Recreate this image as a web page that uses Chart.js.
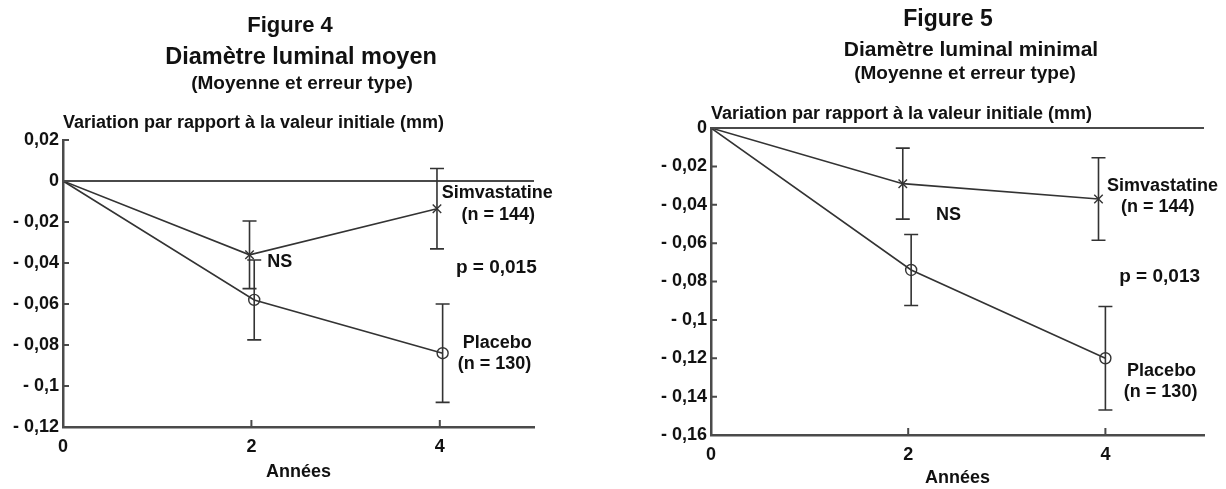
<!DOCTYPE html>
<html><head><meta charset="utf-8">
<script src="https://cdn.jsdelivr.net/npm/chart.js@4"></script>
<style>
html,body{margin:0;padding:0;background:#fff;}
#wrap{position:relative;width:1226px;height:489px;overflow:hidden;}
canvas{position:absolute;top:0;}
#c4{left:0}
#c5{left:613px}
</style></head><body>
<div id="wrap"><canvas id="c4" width="613" height="489"></canvas><canvas id="c5" width="613" height="489"></canvas></div>
<script>
// ---------- data ----------
const xTicks = [0, 2, 4];
const xTickLabels = ['0', '2', '4'];

// Figure 4 : Diamètre luminal moyen
const fig4SimX = [0, 1.98, 3.97];
const fig4SimY = [0, -0.036, -0.0135];
const fig4SimErr = [0, 0.0165, 0.0196];
const fig4PlaX = [0, 2.03, 4.03];
const fig4PlaY = [0, -0.058, -0.084];
const fig4PlaErr = [0, 0.0195, 0.024];
const fig4YTicks = [0.02, 0, -0.02, -0.04, -0.06, -0.08, -0.1, -0.12];
const fig4YTickLabels = ['0,02', '0', '- 0,02', '- 0,04', '- 0,06', '- 0,08', '- 0,1', '- 0,12'];

// Figure 5 : Diamètre luminal minimal
const fig5SimX = [0, 1.945, 3.93];
const fig5SimY = [0, -0.029, -0.037];
const fig5SimErr = [0, 0.0185, 0.0215];
const fig5PlaX = [0, 2.03, 4.0];
const fig5PlaY = [0, -0.074, -0.120];
const fig5PlaErr = [0, 0.0185, 0.027];
const fig5YTicks = [0, -0.02, -0.04, -0.06, -0.08, -0.1, -0.12, -0.14, -0.16];
const fig5YTickLabels = ['0', '- 0,02', '- 0,04', '- 0,06', '- 0,08', '- 0,1', '- 0,12', '- 0,14', '- 0,16'];

// ---------- style ----------
const FONT = '"Liberation Sans", Arial, Helvetica, sans-serif';
const AXIS = '#4a4a4a';
const LINE = '#333333';
const TEXT = '#111111';

const decor = {
  id: 'decor',
  beforeDatasetsDraw(chart, args, o) {
    const ctx = chart.ctx, xs = chart.scales.x, ys = chart.scales.y, ca = chart.chartArea;
    ctx.save();
    ctx.strokeStyle = AXIS; ctx.lineWidth = 2;
    const y0 = ys.getPixelForValue(0);
    ctx.beginPath(); ctx.moveTo(ca.left, y0); ctx.lineTo(ca.right, y0); ctx.stroke();
    ctx.restore();
  },
  afterDatasetsDraw(chart, args, o) {
    const ctx = chart.ctx, xs = chart.scales.x, ys = chart.scales.y;
    ctx.save();
    ctx.strokeStyle = LINE; ctx.lineWidth = 1.6;
    for (const s of o.errors) {
      for (let i = 0; i < s.x.length; i++) {
        if (!s.e[i]) continue;
        const px = xs.getPixelForValue(s.x[i]);
        const top = ys.getPixelForValue(s.y[i] + s.e[i]);
        const bot = ys.getPixelForValue(s.y[i] - s.e[i]);
        ctx.beginPath();
        ctx.moveTo(px, top); ctx.lineTo(px, bot);
        ctx.moveTo(px - 7, top); ctx.lineTo(px + 7, top);
        ctx.moveTo(px - 7, bot); ctx.lineTo(px + 7, bot);
        ctx.stroke();
      }
    }
    ctx.restore();
  },
  afterDraw(chart, args, o) {
    const ctx = chart.ctx, xs = chart.scales.x, ys = chart.scales.y, ca = chart.chartArea;
    ctx.save();
    ctx.strokeStyle = AXIS; ctx.lineWidth = 2;
    ctx.beginPath();
    for (const v of o.yTicks) { const p = ys.getPixelForValue(v); ctx.moveTo(ca.left, p); ctx.lineTo(ca.left + 6, p); }
    for (const v of xTicks) { if (v === 0) continue; const p = xs.getPixelForValue(v); ctx.moveTo(p, ca.bottom); ctx.lineTo(p, ca.bottom - 7); }
    ctx.stroke();
    ctx.fillStyle = TEXT;
    // titles
    ctx.textAlign = 'center'; ctx.textBaseline = 'alphabetic';
    for (const t of o.titles) { ctx.font = 'bold ' + t.size + 'px ' + FONT; ctx.fillText(t.text, t.x, t.y); }
    // y axis title
    ctx.textAlign = 'left';
    ctx.font = 'bold 18px ' + FONT;
    ctx.fillText(o.yTitle, ca.left, o.yTitleY);
    // annotations (data coordinates)
    ctx.textAlign = 'center'; ctx.textBaseline = 'middle';
    for (const a of o.notes) {
      ctx.font = 'bold ' + (a.size || 18) + 'px ' + FONT;
      ctx.fillText(a.text, xs.getPixelForValue(a.x), ys.getPixelForValue(a.y));
    }
    ctx.restore();
  }
};

function pts(xs, ys) { return xs.map((x, i) => ({x: x, y: ys[i]})); }

function makeChart(id, cfg) {
  return new Chart(document.getElementById(id), {
    type: 'scatter',
    data: {
      datasets: [
        { label: 'Simvastatine', data: pts(cfg.simX, cfg.simY), showLine: true,
          borderColor: LINE, borderWidth: 1.6, pointStyle: 'crossRot',
          pointRadius: [0, 6, 6], pointBorderColor: LINE, pointBorderWidth: 1.4,
          backgroundColor: 'transparent', pointBackgroundColor: 'transparent' },
        { label: 'Placebo', data: pts(cfg.plaX, cfg.plaY), showLine: true,
          borderColor: LINE, borderWidth: 1.6, pointStyle: 'circle',
          pointRadius: [0, 5.5, 5.5], pointBorderColor: LINE, pointBorderWidth: 1.4,
          backgroundColor: 'transparent', pointBackgroundColor: 'transparent' }
      ]
    },
    options: {
      responsive: false, animation: false, devicePixelRatio: 1,
      layout: { padding: cfg.padding },
      plugins: {
        legend: { display: false }, tooltip: { enabled: false },
        decor: {
          errors: [ {x: cfg.simX, y: cfg.simY, e: cfg.simErr}, {x: cfg.plaX, y: cfg.plaY, e: cfg.plaErr} ],
          yTicks: cfg.yTicks, titles: cfg.titles, yTitle: 'Variation par rapport à la valeur initiale (mm)',
          yTitleY: cfg.yTitleY, notes: cfg.notes
        }
      },
      scales: {
        x: {
          type: 'linear', min: 0, max: 5,
          afterBuildTicks: s => { s.ticks = xTicks.map(v => ({value: v})); },
          afterFit: s => { s.height = cfg.xHeight; },
          grid: { display: false, drawTicks: false },
          border: { display: true, color: AXIS, width: 2.5 },
          ticks: { padding: cfg.xTickPad, color: TEXT, font: { family: FONT, size: 18, weight: 'bold' },
                   callback: (v, i) => xTickLabels[xTicks.indexOf(v)] },
          title: { display: true, text: 'Années', color: TEXT, font: { family: FONT, size: 18, weight: 'bold' },
                   padding: { top: 0, bottom: cfg.xTitlePad } }
        },
        y: {
          type: 'linear', min: cfg.yTicks[cfg.yTicks.length - 1], max: cfg.yTicks[0],
          afterBuildTicks: s => { s.ticks = cfg.yTicks.map(v => ({value: v})); },
          afterFit: s => { s.width = cfg.yWidth; },
          grid: { display: false, drawTicks: false },
          border: { display: true, color: AXIS, width: 2.5 },
          ticks: { padding: 4, color: TEXT, font: { family: FONT, size: 18, weight: 'bold' },
                   callback: (v, i) => cfg.yLabels[i] }
        }
      }
    },
    plugins: [decor]
  });
}

makeChart('c4', {
  simX: fig4SimX, simY: fig4SimY, simErr: fig4SimErr,
  plaX: fig4PlaX, plaY: fig4PlaY, plaErr: fig4PlaErr,
  yTicks: fig4YTicks, yLabels: fig4YTickLabels,
  padding: { left: 0, top: 140, right: 79, bottom: 0 },
  yWidth: 63, xHeight: 62, xTickPad: 9, xTitlePad: 6, yTitleY: 128,
  titles: [
    { text: 'Figure 4', size: 22, x: 290, y: 32 },
    { text: 'Diamètre luminal moyen', size: 23.5, x: 301, y: 64 },
    { text: '(Moyenne et erreur type)', size: 19, x: 302, y: 89 }
  ],
  notes: [
    { text: 'NS', x: 2.30, y: -0.0395 },
    { text: 'Simvastatine', x: 4.61, y: -0.0058 },
    { text: '(n = 144)', x: 4.62, y: -0.0165 },
    { text: 'p = 0,015', x: 4.60, y: -0.0422, size: 19 },
    { text: 'Placebo', x: 4.61, y: -0.0790 },
    { text: '(n = 130)', x: 4.58, y: -0.0895 }
  ]
});

makeChart('c5', {
  simX: fig5SimX, simY: fig5SimY, simErr: fig5SimErr,
  plaX: fig5PlaX, plaY: fig5PlaY, plaErr: fig5PlaErr,
  yTicks: fig5YTicks, yLabels: fig5YTickLabels,
  padding: { left: 0, top: 128, right: 22, bottom: 0 },
  yWidth: 98, xHeight: 54, xTickPad: 9, xTitlePad: 0, yTitleY: 119,
  titles: [
    { text: 'Figure 5', size: 23, x: 335, y: 26 },
    { text: 'Diamètre luminal minimal', size: 21, x: 358, y: 56 },
    { text: '(Moyenne et erreur type)', size: 19, x: 352, y: 79 }
  ],
  notes: [
    { text: 'NS', x: 2.41, y: -0.0453 },
    { text: 'Simvastatine', x: 4.58, y: -0.0300 },
    { text: '(n = 144)', x: 4.53, y: -0.0412 },
    { text: 'p = 0,013', x: 4.55, y: -0.0776, size: 19 },
    { text: 'Placebo', x: 4.57, y: -0.1265 },
    { text: '(n = 130)', x: 4.56, y: -0.1375 }
  ]
});
</script>
</body></html>
